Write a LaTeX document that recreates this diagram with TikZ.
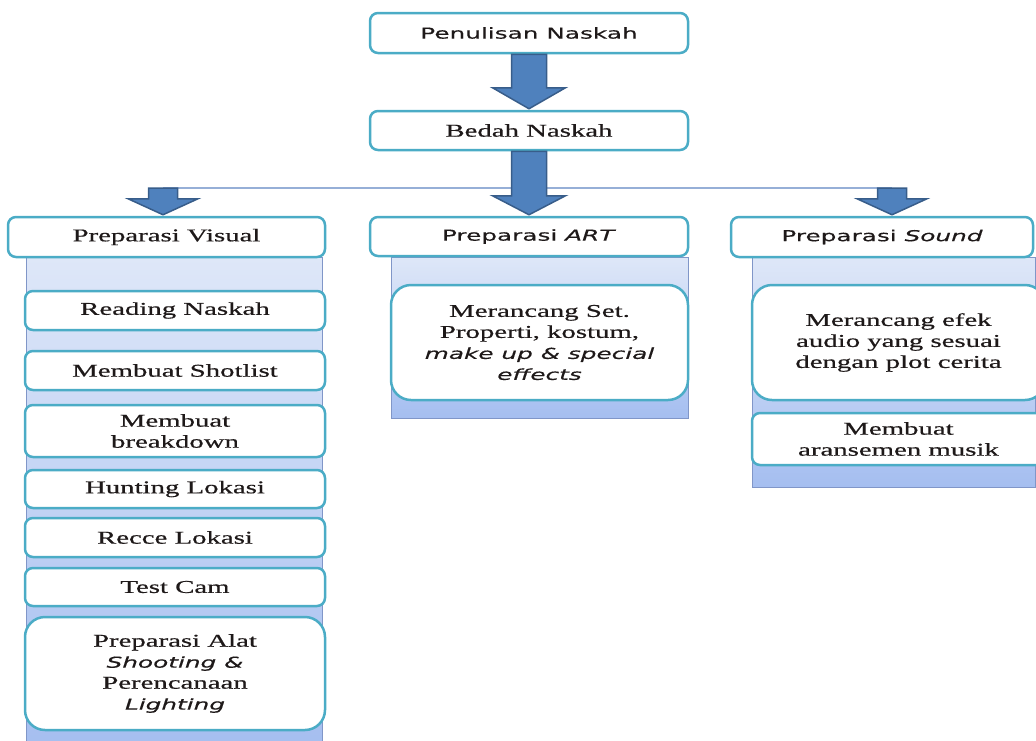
\documentclass[tikz,border=0pt]{standalone}
\usepackage{fontspec}
\usepackage{tikz}
\usetikzlibrary{calc}
\newfontfamily\serifw[FakeStretch=1.6, FakeBold=0.6]{Liberation Serif}
\newfontfamily\sansw[FakeStretch=1.65, FakeBold=0.4]{DejaVu Sans}
\newcommand{\itsans}[1]{{\sansw\itshape\fontsize{15}{21}\selectfont #1}}
\definecolor{boxline}{RGB}{75,172,198}
\definecolor{arrowfill}{RGB}{79,129,189}
\definecolor{arrowline}{RGB}{56,93,138}
\definecolor{coltop}{RGB}{222,231,248}
\definecolor{colbot}{RGB}{165,190,240}
\definecolor{colline}{RGB}{128,150,200}
\definecolor{linkline}{RGB}{150,175,215}
\definecolor{inktext}{RGB}{30,25,25}
\tikzstyle{headbox} = [rectangle, rounded corners=8pt, draw=boxline, line width=2.5pt, fill=white, inner sep=0pt, text=inktext, align=center]
\tikzstyle{stepbox} = [headbox, font=\serifw\fontsize{18}{21}\selectfont]
\tikzstyle{sansbox} = [headbox, font=\sansw\fontsize{15}{19}\selectfont]
\tikzstyle{column} = [rectangle, draw=colline, line width=1pt, top color=coltop, bottom color=colbot, inner sep=0pt]
\tikzstyle{link} = [draw=linkline, line width=1.2pt]
\tikzset{blockarrow/.style n args={3}{fill=arrowfill, draw=arrowline, line width=1.5pt, line join=miter,
  to path={let \p1=(\tikztostart), \p2=(\tikztotarget) in
    (\x1-#1pt,\y1) -- (\x1-#1pt,\y2+#3pt) -- (\x1-#2pt,\y2+#3pt) -- (\x1,\y2+1pt)
    -- (\x1+#2pt,\y2+#3pt) -- (\x1+#1pt,\y2+#3pt) -- (\x1+#1pt,\y1) -- cycle}}}

\begin{document}
\begin{tikzpicture}[x=1pt, y=-1pt]
\useasboundingbox (0,0) rectangle (1036,740);
% kolom latar
\node (viscol) [column, minimum width=296, minimum height=490] at (174,502) {};
\node (artcol) [column, minimum width=297, minimum height=161] at (539.5,337.5) {};
\node (sndcol) [column, minimum width=283, minimum height=230] at (893.5,372) {};
% kotak utama
\node (pen) [sansbox, minimum width=318, minimum height=40] at (529,33) {Penulisan Naskah};
\node (bedah) [stepbox, minimum width=318, minimum height=39] at (529,130.5) {Bedah Naskah};
\node (vis) [stepbox, minimum width=317, minimum height=40] at (166.5,237) {Preparasi Visual};
\node (art) [sansbox, minimum width=318, minimum height=39] at (529,236.5) {Preparasi \textit{ART}};
\node (snd) [sansbox, minimum width=302, minimum height=40] at (882,237) {Preparasi \textit{Sound}};
% visual
\node (read) [stepbox, minimum width=300, minimum height=39] at (175,310.5) {Reading Naskah};
\node (shot) [stepbox, minimum width=300, minimum height=39] at (175,370.5) {Membuat Shotlist};
\node (brk) [stepbox, minimum width=300, minimum height=52] at (175,431) {Membuat\\breakdown};
\node (hunt) [stepbox, minimum width=300, minimum height=38] at (175,489) {Hunting Lokasi};
\node (recce) [stepbox, minimum width=300, minimum height=39] at (175,537.5) {Recce Lokasi};
\node (test) [stepbox, minimum width=300, minimum height=38] at (175,587) {Test Cam};
\node (alat) [stepbox, rounded corners=20pt, minimum width=300, minimum height=113] at (175,673.5)
  {Preparasi Alat\\\itsans{Shooting \&}\\Perencanaan\\\itsans{Lighting}};
% art
\node (set) [stepbox, rounded corners=20pt, minimum width=297, minimum height=115] at (539.5,342.5)
  {Merancang Set.\\Properti, kostum,\\\itsans{make up \& special}\\\itsans{effects}};
% sound
\node (efek) [stepbox, rounded corners=20pt, minimum width=293, minimum height=115] at (898.5,342.5)
  {Merancang efek\\audio yang sesuai\\dengan plot cerita};
\node (musik) [stepbox, minimum width=293, minimum height=52] at (898.5,439) {Membuat\\aransemen musik};
% panah
\coordinate (visjoin) at (163,188);
\coordinate (sndjoin) at (892,188);
\draw [link] (visjoin) -- (sndjoin);
\draw [blockarrow={17.5}{36.5}{22}] (pen.south) to (bedah.north);
\draw [blockarrow={17.5}{36.5}{20}] (bedah.south) to (art.north);
\draw [blockarrow={14.5}{35}{17}] (visjoin) to (vis.north);
\draw [blockarrow={14.5}{35}{17}] (sndjoin) to (snd.north);
\end{tikzpicture}
\end{document}
